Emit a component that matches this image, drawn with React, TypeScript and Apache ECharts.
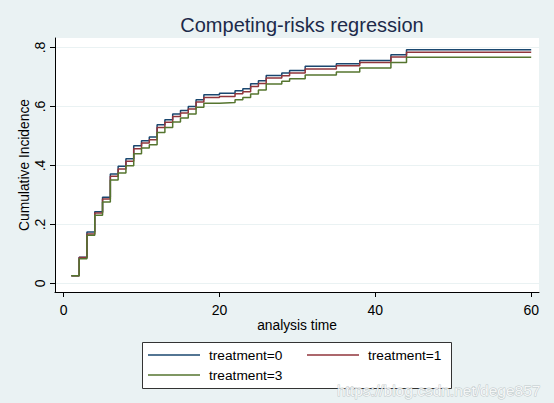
import React, { useEffect, useRef } from "react";
import * as echarts from "echarts";

const titleText = "Competing-risks regression";
const xAxisName = "analysis time";
const yAxisName = "Cumulative Incidence";
const seriesNames = ["treatment=0", "treatment=1", "treatment=3"];
const seriesColors = ["#1a476f", "#90353b", "#55752f"];

const times = [1, 2, 3, 4, 5, 6, 7, 8, 9, 10, 11, 12, 13, 14, 15, 16, 17, 18, 20, 22, 23, 24, 25, 26, 28, 29, 31, 35, 38, 42, 44, 60];
const treatment0 = [0.026, 0.089, 0.174, 0.243, 0.292, 0.371, 0.397, 0.423, 0.467, 0.484, 0.496, 0.538, 0.555, 0.574, 0.586, 0.600, 0.623, 0.640, 0.645, 0.653, 0.660, 0.677, 0.687, 0.705, 0.713, 0.722, 0.736, 0.745, 0.756, 0.775, 0.792, 0.792];
const treatment1 = [0.026, 0.088, 0.168, 0.239, 0.286, 0.363, 0.388, 0.414, 0.457, 0.476, 0.487, 0.529, 0.546, 0.566, 0.578, 0.591, 0.615, 0.630, 0.634, 0.643, 0.650, 0.668, 0.678, 0.696, 0.704, 0.713, 0.727, 0.738, 0.749, 0.768, 0.784, 0.784];
const treatment3 = [0.026, 0.084, 0.163, 0.231, 0.276, 0.351, 0.374, 0.399, 0.440, 0.459, 0.470, 0.512, 0.529, 0.547, 0.561, 0.574, 0.597, 0.611, 0.613, 0.623, 0.630, 0.642, 0.656, 0.676, 0.685, 0.694, 0.707, 0.717, 0.730, 0.749, 0.767, 0.767];

const xTicks = [0, 20, 40, 60];
const yTicks = [0, 0.2, 0.4, 0.6, 0.8];
const yTickLabels = ["0", ".2", ".4", ".6", ".8"];
const watermark = "https://blog.csdn.net/dege857";

const FONT = "'Liberation Sans', Arial, sans-serif";

export default function App() {
  const ref = useRef<HTMLDivElement>(null);
  useEffect(() => {
    if (!ref.current) return;
    const chart = echarts.init(ref.current, null, { renderer: "svg" });
    const allValues = [treatment0, treatment1, treatment3];
    const series = allValues.map((vals, i) => ({
      name: seriesNames[i],
      type: "line",
      step: "end",
      symbol: "none",
      data: times.map((t, k) => [t, vals[k]]),
      lineStyle: { color: seriesColors[i], width: 1.5 },
      itemStyle: { color: seriesColors[i] },
      z: 3 + i,
    }));
    const legendPos = [
      { left: 148, top: 348 },
      { left: 307, top: 348 },
      { left: 148, top: 368 },
    ];
    chart.setOption({
      animation: false,
      backgroundColor: "#eaf2f3",
      textStyle: { fontFamily: FONT },
      title: {
        text: titleText,
        left: 297,
        textAlign: "center",
        top: 10,
        textStyle: { fontFamily: FONT, fontSize: 20, fontWeight: "normal", color: "#1c2a4a" },
      },
      grid: {
        left: 55,
        top: 38,
        right: 15,
        bottom: 111,
        show: true,
        backgroundColor: "#ffffff",
        borderWidth: 0,
      },
      xAxis: {
        type: "value",
        min: -1.1,
        max: 61,
        name: xAxisName,
        nameLocation: "middle",
        nameGap: 26,
        nameMoveOverlap: false,
        nameTextStyle: { fontFamily: FONT, fontSize: 13.8, color: "#000" },
        axisLine: { show: true, onZero: false, lineStyle: { color: "#000", width: 1 } },
        axisTick: { show: true, length: 5, customValues: xTicks, lineStyle: { color: "#000" } },
        axisLabel: { customValues: xTicks, fontFamily: FONT, fontSize: 14, color: "#000", margin: 11 },
        splitLine: { show: false },
      },
      yAxis: {
        type: "value",
        min: -0.029,
        max: 0.832,
        name: yAxisName,
        nameLocation: "middle",
        nameRotate: 90,
        nameGap: 24,
        nameMoveOverlap: false,
        nameTextStyle: { fontFamily: FONT, fontSize: 13.8, color: "#000" },
        axisLine: { show: true, onZero: false, lineStyle: { color: "#000", width: 1 } },
        axisTick: { show: true, length: 5, customValues: yTicks, lineStyle: { color: "#000" } },
        axisLabel: {
          customValues: yTicks,
          rotate: 90,
          fontFamily: FONT,
          fontSize: 14,
          color: "#000",
          margin: 8,
          formatter: (v: number) => {
            const idx = yTicks.findIndex((t) => Math.abs(t - v) < 1e-6);
            return idx >= 0 ? yTickLabels[idx] : "";
          },
        },
        splitLine: { show: true, lineStyle: { color: "#eaf2f3", width: 1 } },
      },
      legend: seriesNames.map((n, i) => ({
        data: [n],
        left: legendPos[i].left,
        top: legendPos[i].top,
        padding: 0,
        icon: "rect",
        itemWidth: 52,
        itemHeight: 1.5,
        z: 10,
        textStyle: { fontFamily: FONT, fontSize: 13.7, color: "#000", padding: [0, 0, 0, 4] },
      })),
      graphic: [
        {
          type: "rect",
          z: 1,
          shape: { x: 142.5, y: 342.5, width: 309, height: 46 },
          style: { fill: "#ffffff", stroke: "#333333", lineWidth: 1 },
        },
        {
          type: "text",
          z: 20,
          x: 337,
          y: 390,
          style: {
            text: watermark,
            font: "15.5px " + FONT,
            fill: "rgba(255,255,255,0.85)",
            stroke: "rgba(160,170,172,0.6)",
            lineWidth: 1,
            verticalAlign: "middle",
          },
        },
      ],
      series,
    });
    return () => chart.dispose();
  }, []);
  return (
    <div
      ref={ref}
      style={{ position: "fixed", left: 0, top: 0, width: 554, height: 403 }}
    />
  );
}
